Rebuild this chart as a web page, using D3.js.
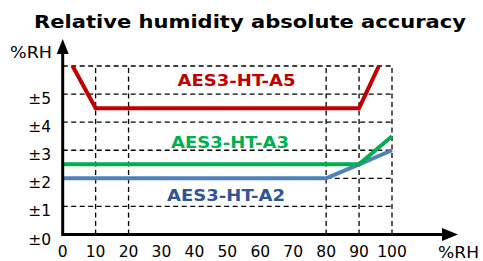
<!DOCTYPE html>
<html><head><meta charset="utf-8">
<script src="https://cdn.jsdelivr.net/npm/d3@7"></script>
<style>html,body{margin:0;padding:0;background:#fff;}svg{display:block;}</style>
</head><body>
<script>
const title = "Relative humidity absolute accuracy";
const xTicks = [0,10,20,30,40,50,60,70,80,90,100];
const yTickValues = [0,1,2,3,4,5];
const yTickLabels = ["±0","±1","±2","±3","±4","±5"];
const xGrid = [10,20,80,90,100];
const yGrid = [1,2,3,4,5,6];
const seriesNames = ["AES3-HT-A5","AES3-HT-A3","AES3-HT-A2"];
const a5X = [3,10,90,96];
const a5Y = [6,4.5,4.5,6];
const a3X = [0,90,100];
const a3Y = [2.5,2.5,3.5];
const a2X = [0,80,90,100];
const a2Y = [2,2,2.5,3];
const axisUnit = "%RH";

const W=483,H=261;
const lineColors = ["#c00000","#00b050","#4f81bd"];
const labelColors = ["#c00000","#00b050","#2f5597"];
const labelPos = [[52.8,5.3],[50.8,3.08],[49.6,1.2]];

const svg = d3.select("body").append("svg").attr("width",W).attr("height",H);
const x = d3.scaleLinear().domain([0,100]).range([62.7,392]);
const y = d3.scaleLinear().domain([0,6]).range([234.5,66]);
const font = "'DejaVu Sans', Verdana, sans-serif";

svg.append("text").attr("x",250).attr("y",28).attr("text-anchor","middle")
  .attr("font-family",font).attr("font-weight","bold").attr("font-size",18.5)
  .attr("textLength",432).attr("lengthAdjust","spacingAndGlyphs").text(title);

// grid
const g = svg.append("g").attr("stroke","#000").attr("stroke-width",1.3).attr("stroke-dasharray","5,3.5").attr("fill","none");
g.selectAll("line.h").data(yGrid).join("line").attr("x1",x(0)).attr("x2",x(100)).attr("y1",d=>y(d)).attr("y2",d=>y(d));
g.selectAll("line.v").data(xGrid).join("line").attr("x1",d=>x(d)).attr("x2",d=>x(d)).attr("y1",y(0)).attr("y2",y(6));

// series
const series = [[a5X,a5Y],[a3X,a3Y],[a2X,a2Y]];
const line = d3.line().x(d=>x(d[0])).y(d=>y(d[1]));
const order=[2,1,0];
order.forEach(i=>{
  const pts = series[i][0].map((v,j)=>[v,series[i][1][j]]);
  svg.append("path").attr("d",line(pts)).attr("fill","none").attr("stroke",lineColors[i]).attr("stroke-width",4).attr("stroke-linejoin","miter");
});
seriesNames.forEach((n,i)=>{
  svg.append("text").attr("x",x(labelPos[i][0])).attr("y",y(labelPos[i][1])).attr("text-anchor","middle")
    .attr("font-family",font).attr("font-weight","bold").attr("font-size",15).attr("fill",labelColors[i])
    .attr("textLength",118).attr("lengthAdjust","spacingAndGlyphs").text(n);
});

// axes
svg.append("line").attr("x1",x(0)).attr("x2",444).attr("y1",y(0)).attr("y2",y(0)).attr("stroke","#000").attr("stroke-width",3);
svg.append("path").attr("d",`M442,${y(0)-6.5}L458,${y(0)}L442,${y(0)+6.5}Z`).attr("fill","#000");
svg.append("line").attr("x1",x(0)).attr("x2",x(0)).attr("y1",y(0)+1.5).attr("y2",52).attr("stroke","#000").attr("stroke-width",3);
svg.append("path").attr("d",`M${x(0)-6},54L${x(0)},39L${x(0)+6},54Z`).attr("fill","#000");

svg.selectAll("text.xt").data(xTicks).join("text").attr("class","xt").attr("x",d=>x(d)).attr("y",257)
  .attr("text-anchor","middle").attr("font-family",font).attr("font-size",15.5).text(d=>d);
svg.selectAll("text.yt").data(yTickValues).join("text").attr("class","yt").attr("x",51).attr("y",d=>y(d)+10)
  .attr("text-anchor","end").attr("font-family",font).attr("font-size",15.5).text((d,i)=>yTickLabels[i]);
svg.append("text").attr("x",52).attr("y",58).attr("text-anchor","end").attr("font-family",font).attr("font-size",15.5)
  .attr("textLength",42).attr("lengthAdjust","spacingAndGlyphs").text(axisUnit);
svg.append("text").attr("x",438).attr("y",258).attr("font-family",font).attr("font-size",15.5)
  .attr("textLength",41).attr("lengthAdjust","spacingAndGlyphs").text(axisUnit);
</script>
</body></html>
